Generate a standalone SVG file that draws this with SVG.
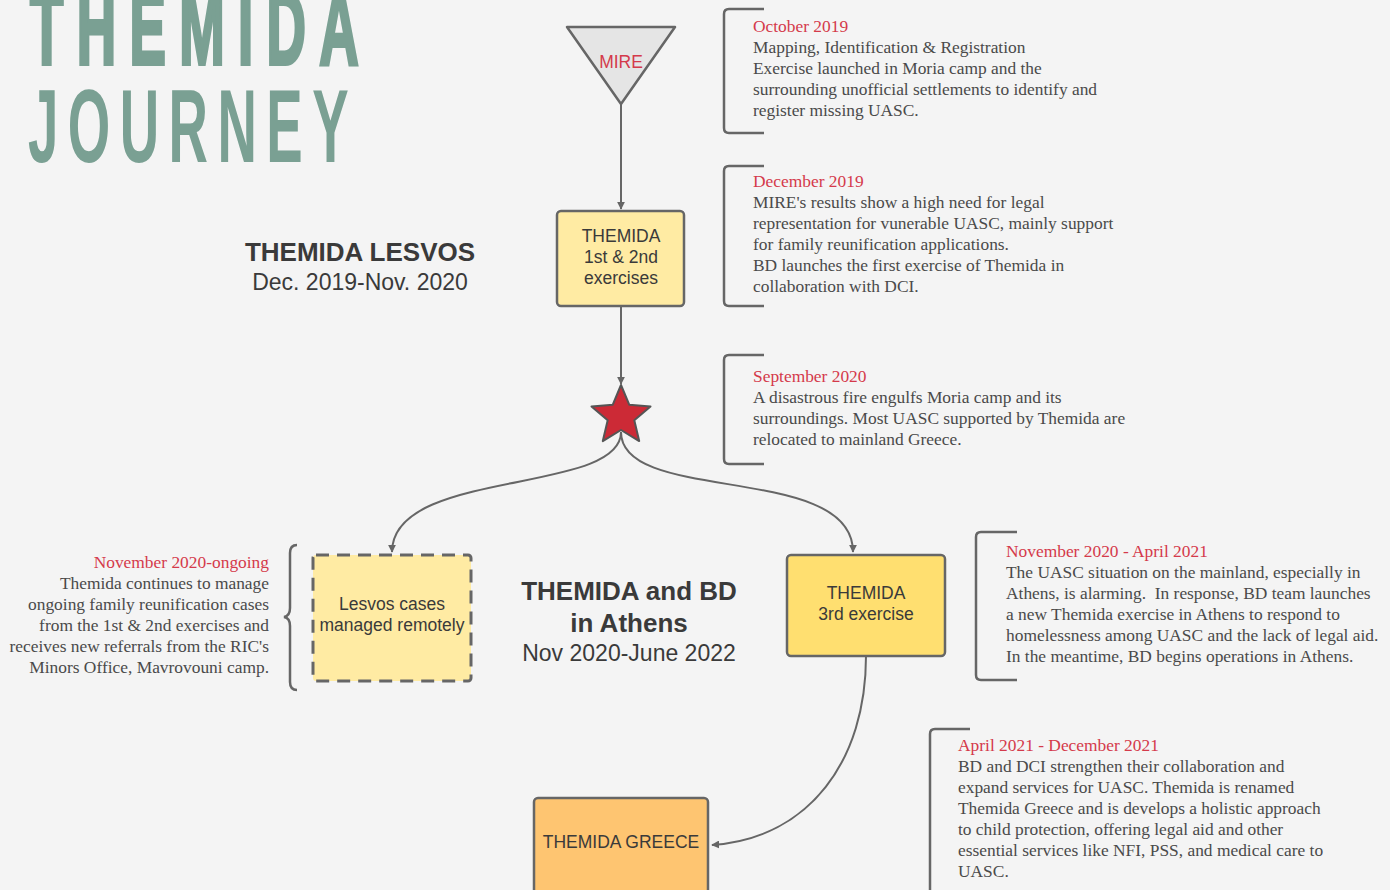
<svg xmlns="http://www.w3.org/2000/svg" width="1390" height="890" viewBox="0 0 1390 890">
<defs>
<style>
.bg{fill:#f4f4f4}
.title{fill:#7aa093;font-family:"Liberation Sans",Arial,sans-serif;font-weight:bold}
.node{stroke:#666;stroke-width:2.5}
.lbl{font-family:"Liberation Sans",Arial,sans-serif;font-size:17.5px;fill:#3a3a3a;text-anchor:middle}
.head{font-family:"Liberation Sans",Arial,sans-serif;fill:#3a3a3a;text-anchor:middle}
.note{font-family:"Liberation Serif","Times New Roman",serif;font-size:17.4px;fill:#4a4a4a}
.red{fill:#d43a4b}
.br{fill:none;stroke:#666;stroke-width:2.5}
.conn{fill:none;stroke:#666;stroke-width:2}
</style>
<marker id="arr" viewBox="0 0 10 10" refX="9" refY="5" markerWidth="8" markerHeight="8" markerUnits="userSpaceOnUse" orient="auto">
<path d="M0,0 L10,5 L0,10 z" fill="#666"/>
</marker>
</defs>
<rect class="bg" x="0" y="0" width="1390" height="890"/>

<g id="title">
<text class="title" transform="translate(30,64) scale(0.53,1)" font-size="103" stroke="#7aa093" stroke-width="4" textLength="620" lengthAdjust="spacing">THEMIDA</text>
<text class="title" transform="translate(28,162) scale(0.53,1)" font-size="103" textLength="605" lengthAdjust="spacing">JOURNEY</text>
</g>

<g id="connectors">
<path class="conn" d="M621,104 V209" marker-end="url(#arr)"/>
<path class="conn" d="M621,306 V384" marker-end="url(#arr)"/>
<path class="conn" d="M621,432 C621,495 392,468 392,552" marker-end="url(#arr)"/>
<path class="conn" d="M621,432 C621,505 853,462 853,552" marker-end="url(#arr)"/>
<path class="conn" d="M866,656 C866,760 810,838 712,845" marker-end="url(#arr)"/>
</g>

<g id="mire">
<path class="node" d="M567,27 H675 L621,104 Z" fill="#e5e5e5" stroke-linejoin="round"/>
<text x="621" y="68" font-family="Liberation Sans,Arial,sans-serif" font-size="17.5" fill="#d43a4b" text-anchor="middle">MIRE</text>
</g>

<g id="themida12">
<rect class="node" x="557" y="211" width="127" height="95" rx="4" fill="#ffeba3"/>
<text class="lbl" x="621" y="242">THEMIDA</text>
<text class="lbl" x="621" y="263">1st &amp; 2nd</text>
<text class="lbl" x="621" y="284">exercises</text>
</g>

<g id="star">
<path d="M621,385 L629.2,404.7 L650.5,406.4 L634.3,420.3 L639.2,441.1 L621,430 L602.8,441.1 L607.7,420.3 L591.5,406.4 L612.8,404.7 Z" fill="#cc2a36" stroke="#555" stroke-width="2" stroke-linejoin="round"/>
</g>

<g id="lesvos">
<rect x="313" y="555" width="158" height="126" rx="3" fill="#ffeba3" stroke="#666" stroke-width="3" stroke-dasharray="13 8"/>
<text class="lbl" x="392" y="610">Lesvos cases</text>
<text class="lbl" x="392" y="631">managed remotely</text>
</g>

<g id="themida3">
<rect class="node" x="787" y="555" width="158" height="101" rx="4" fill="#ffdf70"/>
<text class="lbl" x="866" y="599">THEMIDA</text>
<text class="lbl" x="866" y="620">3rd exercise</text>
</g>

<g id="greece">
<rect class="node" x="534" y="798" width="174" height="100" rx="4" fill="#fec571"/>
<text class="lbl" x="621" y="848">THEMIDA GREECE</text>
</g>

<g id="heading-lesvos">
<text class="head" x="360" y="261" font-size="26" font-weight="bold">THEMIDA LESVOS</text>
<text class="head" x="360" y="290" font-size="23">Dec. 2019-Nov. 2020</text>
</g>

<g id="heading-athens">
<text class="head" x="629" y="600" font-size="26" font-weight="bold">THEMIDA and BD</text>
<text class="head" x="629" y="632" font-size="26" font-weight="bold">in Athens</text>
<text class="head" x="629" y="661" font-size="23">Nov 2020-June 2022</text>
</g>

<g id="note-oct2019">
<path class="br" d="M764,9 H729 Q724,9 724,14 V128 Q724,133 729,133 H764"/>
<text class="note"><tspan class="red" x="753" y="32">October 2019</tspan><tspan x="753" y="53">Mapping, Identification &amp; Registration</tspan><tspan x="753" y="74">Exercise launched in Moria camp and the</tspan><tspan x="753" y="95">surrounding unofficial settlements to identify and</tspan><tspan x="753" y="116">register missing UASC.</tspan></text>
</g>

<g id="note-dec2019">
<path class="br" d="M764,166 H729 Q724,166 724,171 V301 Q724,306 729,306 H764"/>
<text class="note"><tspan class="red" x="753" y="187">December 2019</tspan><tspan x="753" y="208">MIRE's results show a high need for legal</tspan><tspan x="753" y="229">representation for vunerable UASC, mainly support</tspan><tspan x="753" y="250">for family reunification applications.</tspan><tspan x="753" y="271">BD launches the first exercise of Themida in</tspan><tspan x="753" y="292">collaboration with DCI.</tspan></text>
</g>

<g id="note-sep2020">
<path class="br" d="M764,355 H729 Q724,355 724,360 V459 Q724,464 729,464 H764"/>
<text class="note"><tspan class="red" x="753" y="382">September 2020</tspan><tspan x="753" y="403">A disastrous fire engulfs Moria camp and its</tspan><tspan x="753" y="424">surroundings. Most UASC supported by Themida are</tspan><tspan x="753" y="445">relocated to mainland Greece.</tspan></text>
</g>

<g id="note-nov2020">
<path class="br" d="M1017,532 H981 Q976,532 976,537 V675 Q976,680 981,680 H1017"/>
<text class="note"><tspan class="red" x="1006" y="557">November 2020 - April 2021</tspan><tspan x="1006" y="578">The UASC situation on the mainland, especially in</tspan><tspan x="1006" y="599">Athens, is alarming.&#160; In response, BD team launches</tspan><tspan x="1006" y="620">a new Themida exercise in Athens to respond to</tspan><tspan x="1006" y="641">homelessness among UASC and the lack of legal aid.</tspan><tspan x="1006" y="662">In the meantime, BD begins operations in Athens.</tspan></text>
</g>

<g id="note-apr2021">
<path class="br" d="M970,729 H935 Q930,729 930,734 V895"/>
<text class="note"><tspan class="red" x="958" y="751">April 2021 - December 2021</tspan><tspan x="958" y="772">BD and DCI strengthen their collaboration and</tspan><tspan x="958" y="793">expand services for UASC. Themida is renamed</tspan><tspan x="958" y="814">Themida Greece and is develops a holistic approach</tspan><tspan x="958" y="835">to child protection, offering legal aid and other</tspan><tspan x="958" y="856">essential services like NFI, PSS, and medical care to</tspan><tspan x="958" y="877">UASC.</tspan></text>
</g>

<g id="note-ongoing">
<path class="br" d="M297,545 Q290,545 290,553 V608 Q290,616 284,617 Q290,618 290,626 V682 Q290,690 297,690"/>
<text class="note" text-anchor="end"><tspan class="red" x="269" y="568">November 2020-ongoing</tspan><tspan x="269" y="589">Themida continues to manage</tspan><tspan x="269" y="610">ongoing family reunification cases</tspan><tspan x="269" y="631">from the 1st &amp; 2nd exercises and</tspan><tspan x="269" y="652">receives new referrals from the RIC's</tspan><tspan x="269" y="673">Minors Office, Mavrovouni camp.</tspan></text>
</g>
</svg>
